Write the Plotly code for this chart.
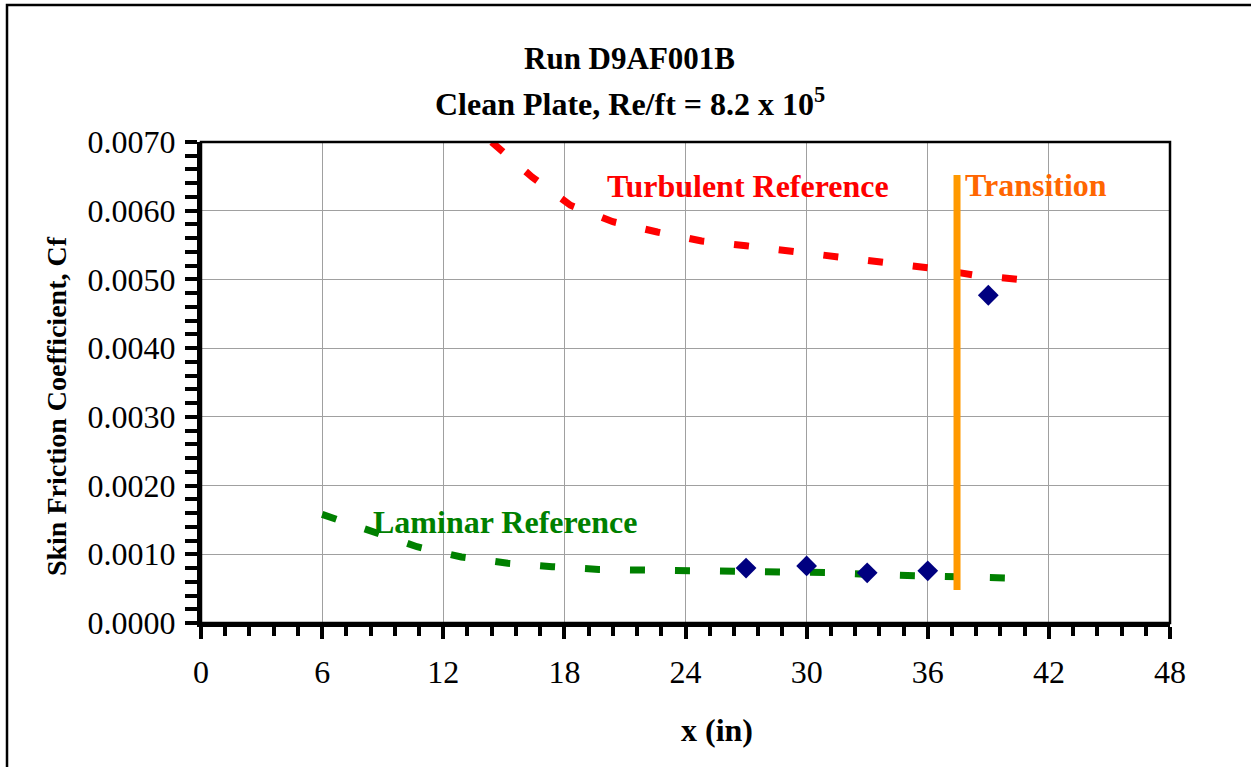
import plotly.graph_objects as go

# Turbulent reference curve (x in inches, skin friction coefficient)
turb_x = [14.4, 16.4, 18.3, 20.4, 22.6, 24.8, 27.0, 29.3, 31.5, 33.7, 36.0, 38.4, 41.2]
turb_cf = [0.00700, 0.00649, 0.00608, 0.00584, 0.00569, 0.00556, 0.00549, 0.00541,
           0.00533, 0.00524, 0.00517, 0.00506, 0.00498]

# Laminar reference curve
lam_x = [6.0, 8.5, 10.7, 12.9, 15.2, 17.4, 19.7, 21.9, 24.3, 26.5, 28.8, 31.0, 33.3,
         35.6, 37.9, 40.6]
lam_cf = [0.00158, 0.00133, 0.00111, 0.00096, 0.00087, 0.00082, 0.00078, 0.00077,
          0.00076, 0.00076, 0.00076, 0.000735, 0.000705, 0.00068, 0.00066, 0.00065]

# Measured skin friction
meas_x = [27, 30, 33, 36, 39]
meas_cf = [0.00080, 0.00083, 0.00073, 0.00076, 0.00477]

# Transition location marker
trans_x = [37.45, 37.45]
trans_cf = [0.00652, 0.00048]

FONT = "Liberation Serif, Times New Roman, serif"

fig = go.Figure()
fig.add_trace(go.Scatter(x=turb_x, y=turb_cf, mode="lines",
                         line=dict(color="#FF0000", width=7, dash="15px,30px"),
                         hoverinfo="skip", showlegend=False))
fig.add_trace(go.Scatter(x=lam_x, y=lam_cf, mode="lines",
                         line=dict(color="#008000", width=7, dash="15px,30px"),
                         hoverinfo="skip", showlegend=False))
fig.add_trace(go.Scatter(x=trans_x, y=trans_cf, mode="lines",
                         line=dict(color="#FF9900", width=7),
                         hoverinfo="skip", showlegend=False))
fig.add_trace(go.Scatter(x=meas_x, y=meas_cf, mode="markers",
                         marker=dict(symbol="diamond", size=16, color="#000080",
                                     line=dict(width=0)),
                         showlegend=False))

axis_common = dict(
    showline=True, linecolor="black", linewidth=4,
    showgrid=True, gridcolor="#A0A0A0", gridwidth=1,
    ticks="outside", tickcolor="black", tickwidth=4,
    tickfont=dict(family=FONT, size=32, color="black"),
    zeroline=False,
)

fig.update_xaxes(range=[0, 48], dtick=6, tick0=0, ticklen=12,
                 minor=dict(dtick=1.2, ticks="outside", ticklen=9, tickwidth=4,
                            tickcolor="black", showgrid=False),
                 ticklabelstandoff=6, **axis_common)
fig.update_yaxes(range=[0, 0.007], dtick=0.001, tick0=0, ticklen=12,
                 tickformat=".4f",
                 minor=dict(dtick=0.0002, ticks="outside", ticklen=12, tickwidth=4,
                            tickcolor="black", showgrid=False),
                 ticklabelstandoff=3, **axis_common)

annotations = [
    dict(text="<b>Run D9AF001B</b>", xref="paper", yref="paper", x=0.4427, y=1.1746,
         font=dict(family=FONT, size=31, color="black")),
    dict(text="<b>Clean Plate, Re/ft = 8.2 x 10<sup>5</sup></b>", xref="paper",
         yref="paper", x=0.4427, y=1.0832,
         font=dict(family=FONT, size=32, color="black")),
    dict(text="<b>x (in)</b>", xref="paper", yref="paper", x=0.5325, y=-0.2225,
         font=dict(family=FONT, size=32, color="black")),
    dict(text="<b>Skin Friction Coefficient, Cf</b>", xref="paper", yref="paper",
         x=-0.1496, y=0.4511, textangle=-90,
         font=dict(family=FONT, size=28, color="black")),
    dict(text="<b>Turbulent Reference</b>", x=27.1, y=0.00636,
         font=dict(family=FONT, size=32, color="#FF0000")),
    dict(text="<b>Transition</b>", x=41.36, y=0.00637,
         font=dict(family=FONT, size=32, color="#FF6600")),
    dict(text="<b>Laminar Reference</b>", x=15.1, y=0.00147,
         font=dict(family=FONT, size=32, color="#008000")),
]
for a in annotations:
    a.update(showarrow=False, xanchor="center", yanchor="middle")

shapes = [
    # thin frame on top and right of the plotting area
    dict(type="rect", xref="paper", yref="paper", x0=0, x1=1, y0=0, y1=1,
         line=dict(color="black", width=2.5), layer="above"),
    # outer chart border
    dict(type="rect", xref="paper", yref="paper", x0=-0.2002, x1=1.2, y0=-0.4, y1=1.2848,
         line=dict(color="black", width=2.5)),
]

fig.update_layout(
    width=1251, height=767,
    margin=dict(l=201, r=81, t=142, b=144),
    paper_bgcolor="white", plot_bgcolor="white",
    annotations=annotations, shapes=shapes,
    showlegend=False,
)

fig.write_html("out.html")
